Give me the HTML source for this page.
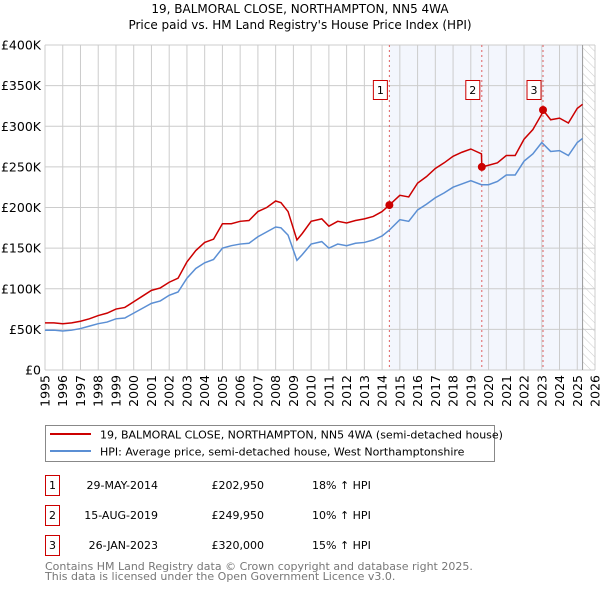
<!DOCTYPE html>
<html><head><meta charset="utf-8"><style>
body{margin:0;background:#fff;}
svg{display:block;font-family:"DejaVu Sans","Liberation Sans",sans-serif;}
</style></head><body>
<svg id="c" width="600" height="590" viewBox="0 0 600 590">
<defs><pattern id="hatch" width="6" height="6" patternUnits="userSpaceOnUse" patternTransform="rotate(-45)"><line x1="0" y1="0" x2="0" y2="6" stroke="#ccc" stroke-width="1"/></pattern></defs>
<text x="300" y="13" text-anchor="middle" font-size="12">19, BALMORAL CLOSE, NORTHAMPTON, NN5 4WA</text>
<text x="300" y="29" text-anchor="middle" font-size="12">Price paid vs. HM Land Registry's House Price Index (HPI)</text>
<g id="plot"></g>
<rect x="45.5" y="425.5" width="449" height="36" fill="#fff" stroke="#888"/>
<line x1="50" y1="434" x2="91" y2="434" stroke="#cc0000" stroke-width="2"/>
<text x="100" y="438.5" font-size="11">19, BALMORAL CLOSE, NORTHAMPTON, NN5 4WA (semi-detached house)</text>
<line x1="50" y1="451" x2="91" y2="451" stroke="#5b8fd4" stroke-width="2"/>
<text x="100" y="455.5" font-size="11">HPI: Average price, semi-detached house, West Northamptonshire</text>
<g id="table"></g>
<text x="45" y="570" font-size="11" fill="#777">Contains HM Land Registry data © Crown copyright and database right 2025.</text>
<text x="45" y="580" font-size="11" fill="#777">This data is licensed under the Open Government Licence v3.0.</text>
</svg>
<script>
const years=[1995,1996,1997,1998,1999,2000,2001,2002,2003,2004,2005,2006,2007,2008,2009,2010,2011,2012,2013,2014,2015,2016,2017,2018,2019,2020,2021,2022,2023,2024,2025,2026];
const yTicks=[0,50,100,150,200,250,300,350,400];
const yTickLabels=["£0","£50K","£100K","£150K","£200K","£250K","£300K","£350K","£400K"];
const hpiDates=[1995,1995.5,1996,1996.5,1997,1997.5,1998,1998.5,1999,1999.5,2000,2000.5,2001,2001.5,2002,2002.5,2003,2003.5,2004,2004.5,2005,2005.5,2006,2006.5,2007,2007.5,2008,2008.3,2008.7,2009.2,2009.5,2010,2010.6,2011,2011.5,2012,2012.5,2013,2013.5,2014,2014.4,2015,2015.5,2016,2016.5,2017,2017.5,2018,2018.5,2019,2019.6,2020,2020.5,2021,2021.5,2022,2022.5,2023,2023.5,2024,2024.5,2025,2025.3];
const hpiValues=[49,49,48,49,51,54,57,59,63,64,70,76,82,85,92,96,113,125,132,136,150,153,155,156,164,170,176,175,166,135,142,155,158,150,155,153,156,157,160,165,172,185,183,197,204,212,218,225,229,233,228,228,232,240,240,257,266,280,269,270,264,280,285];
const propDates=[1995,1995.5,1996,1996.5,1997,1997.5,1998,1998.5,1999,1999.5,2000,2000.5,2001,2001.5,2002,2002.5,2003,2003.5,2004,2004.5,2005,2005.5,2006,2006.5,2007,2007.5,2008,2008.3,2008.7,2009.2,2009.5,2010,2010.6,2011,2011.5,2012,2012.5,2013,2013.5,2014,2014.41,2015,2015.5,2016,2016.5,2017,2017.5,2018,2018.5,2019,2019.6,2019.62,2020,2020.5,2021,2021.5,2022,2022.5,2023,2023.07,2023.5,2024,2024.5,2025,2025.3];
const propValues=[58,58,57,58,60,63,67,70,75,77,84,91,98,101,108,113,133,147,157,161,180,180,183,184,195,200,208,206,195,160,168,183,186,177,183,181,184,186,189,195,202.95,215,213,230,238,248,255,263,268,272,266,249.95,252,255,264,264,284,296,315,320,308,310,304,322,327];
const sales=[{n:"1",d:2014.41,v:202.95,date:"29-MAY-2014",price:"£202,950",pct:"18% ↑ HPI"},{n:"2",d:2019.62,v:249.95,date:"15-AUG-2019",price:"£249,950",pct:"10% ↑ HPI"},{n:"3",d:2023.07,v:320,date:"26-JAN-2023",price:"£320,000",pct:"15% ↑ HPI"}];
const X0=45,X1=595,Y0=370,Y1=45;
const xs=d=>X0+(d-1995)/(2026-1995)*(X1-X0);
const ys=v=>Y0-v/400*(Y0-Y1);
const NS="http://www.w3.org/2000/svg";
const plot=document.getElementById('plot');
function mk(tag,attrs,parent){const e=document.createElementNS(NS,tag);for(const k in attrs)e.setAttribute(k,attrs[k]);(parent||plot).appendChild(e);return e;}
let e;
e=mk('rect',{x:xs(2014.41),y:Y1,width:xs(2025.3)-xs(2014.41),height:Y0-Y1,fill:'#eef2fc',opacity:0.7});


e=mk('rect',{x:xs(2025.3),y:Y1,width:X1-xs(2025.3),height:Y0-Y1,fill:'url(#hatch)'});


years.forEach(y=>{
 e=mk('line',{x1:xs(y),x2:xs(y),y1:Y1,y2:Y0,stroke:'#ccc','stroke-width':1});
 
 
 e=mk('text',{x:0,y:0,'font-size':12.5,'text-anchor':'end',transform:`translate(${xs(y)+4.5},${Y0+5}) rotate(-90)`});
 e.textContent=y;
 
 
});
yTicks.forEach((v,i)=>{
 e=mk('line',{x1:X0,x2:X1,y1:ys(v),y2:ys(v),stroke:'#ccc','stroke-width':1});
 
 
 e=mk('text',{x:X0-4,y:ys(v)+4.5,'font-size':12.5,'text-anchor':'end'});
 e.textContent=yTickLabels[i];
 
 
});
e=mk('line',{x1:xs(2025.3),x2:xs(2025.3),y1:Y1,y2:Y0,stroke:'#999','stroke-width':1});


sales.forEach(s=>{
 e=mk('line',{x1:xs(s.d),x2:xs(s.d),y1:Y1,y2:Y0,stroke:'#e06060','stroke-width':1,'stroke-dasharray':'2,3'});
 
 
});
e=mk('polyline',{points:hpiDates.map((d,i)=>xs(d)+','+ys(hpiValues[i])).join(' '),fill:'none',stroke:'#5b8fd4','stroke-width':1.5});


e=mk('polyline',{points:propDates.map((d,i)=>xs(d)+','+ys(propValues[i])).join(' '),fill:'none',stroke:'#cc0000','stroke-width':1.5});


sales.forEach(s=>{
 e=mk('circle',{cx:xs(s.d),cy:ys(s.v),r:4,fill:'#cc0000'});
 
 
 e=mk('rect',{x:xs(s.d)-16,y:80.5,width:14,height:19,fill:'#fff',stroke:'#cc0000'});
 
 
 e=mk('text',{x:xs(s.d)-9,y:94,'font-size':11,'text-anchor':'middle'});
 e.textContent=s.n;
 
 
});
const tb=document.getElementById('table');
sales.forEach((s,i)=>{
 const y=475+i*30;
 e=mk('rect',{x:45.5,y:y+0.5,width:14,height:20,fill:'#fff',stroke:'#cc0000'},tb);
 
 
 e=mk('text',{x:52.5,y:y+14,'font-size':11,'text-anchor':'middle'},tb);e.textContent=s.n;
 
 
 e=mk('text',{x:158,y:y+14,'font-size':11,'text-anchor':'end'},tb);e.textContent=s.date;
 
 
 e=mk('text',{x:264,y:y+14,'font-size':11,'text-anchor':'end'},tb);e.textContent=s.price;
 
 
 e=mk('text',{x:312,y:y+14,'font-size':11},tb);e.textContent=s.pct;
 
 
});
</script>
</body></html>
